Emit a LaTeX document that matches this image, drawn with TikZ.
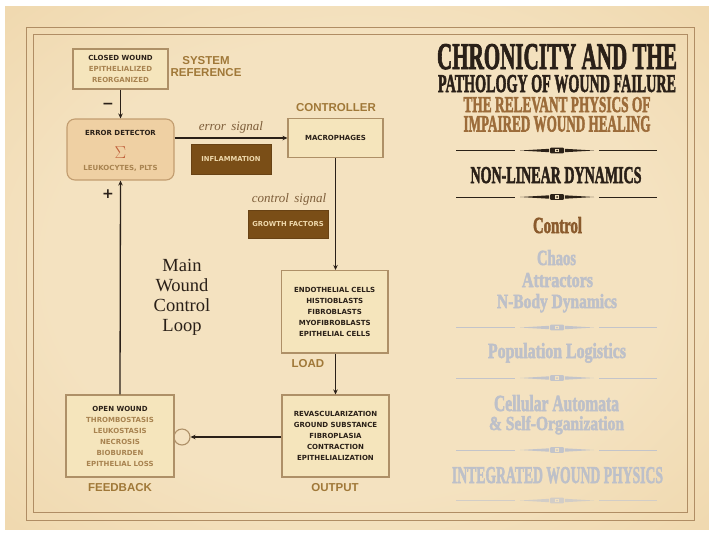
\documentclass[tikz,border=0pt]{standalone}
\usepackage{fontspec}
\usepackage{graphicx}
\usetikzlibrary{arrows.meta}
\newfontfamily\boxfont{DejaVu Sans}
\newfontfamily\lblfont{Liberation Sans}
\newfontfamily\serfont{Liberation Serif}
\newfontfamily\headfont{Liberation Serif}[FakeBold=2.6]
\definecolor{ink}{HTML}{2A2018}
\definecolor{paperc}{HTML}{F4E2C0}
\definecolor{paperm}{HTML}{EDD2A3}
\definecolor{papere}{HTML}{D0A26C}
\definecolor{framec}{HTML}{B08D64}
\definecolor{boxfill}{HTML}{F5E5BC}
\definecolor{boxline}{HTML}{AE9067}
\definecolor{edfill}{HTML}{EFD0A3}
\definecolor{edline}{HTML}{C29D70}
\definecolor{bt}{HTML}{A88350}
\definecolor{lblc}{HTML}{A07838}
\definecolor{darkbox}{HTML}{7A4E17}
\definecolor{creamt}{HTML}{EFD9AC}
\definecolor{sigc}{HTML}{7E5E3A}
\definecolor{sigmac}{HTML}{C0603A}
\definecolor{subc}{HTML}{9C6C3A}
\definecolor{ctrlc}{HTML}{8A5A2C}
\definecolor{lightc}{HTML}{BDC0C9}
\definecolor{ornc}{HTML}{2B2117}
\definecolor{lornc}{HTML}{C3C4CA}
\pgfdeclareradialshading{paper}{\pgfpoint{0bp}{0bp}}{color(0bp)=(paperc); color(22bp)=(paperc); color(45bp)=(paperm); color(72bp)=(papere)}
\newcommand\htxt[3]{\resizebox{#1pt}{#2pt}{\headfont\bfseries #3}}
\newcommand\ornmt[3]{%
\begin{scope}[shift={(#1,#2)},#3]
 \fill (-101,-0.45) rectangle (-42,0.45);
 \fill (42,-0.45) rectangle (100,0.45);
 \fill (-37,0) -- (-8,-1.7) -- (-8,1.7) -- cycle;
 \fill (37,0) -- (8,-1.7) -- (8,1.7) -- cycle;
 \fill[rounded corners=1pt] (-7,-2.8) rectangle (7,2.8);
 \fill[paperc] (-2.2,-1.7) rectangle (2.2,1.7);
 \fill (0,0) circle (1);
\end{scope}}
\tikzset{
 box/.style={draw=boxline, fill=boxfill, line width=1.1pt, inner sep=0pt, align=center,
   font=\boxfont\bfseries\fontsize{7}{11}\selectfont, text=ink},
 dbox/.style={draw=darkbox!85!black, fill=darkbox, line width=0.6pt, inner sep=0pt,
   font=\boxfont\bfseries\fontsize{6.8}{7}\selectfont, text=creamt},
 lbl/.style={font=\lblfont\bfseries\fontsize{11.5}{12}\selectfont, text=lblc, inner sep=0pt, align=center},
 sig/.style={font=\serfont\itshape\fontsize{13}{14}\selectfont, text=sigc, inner sep=0pt},
 arr/.style={draw=ink, line width=1.3pt, -{Stealth[length=5pt,width=4.5pt]}},
 hd/.style={anchor=base, inner sep=0pt},
 btxt/.style={inner sep=0pt, font=\boxfont\bfseries\fontsize{7}{8}\selectfont},
}
\begin{document}
\begin{tikzpicture}[x=1pt,y=-1pt]
\useasboundingbox (0,0) rectangle (709,539);
\fill[white] (0,0) rectangle (709,539);
\shade[shading=paper] (5,6) rectangle (709,529);
% frame
\draw[framec, line width=0.9pt] (26,27) rectangle (694,520);
\draw[framec, line width=0.9pt] (33,34) rectangle (687,512);

% ---- left diagram ----
\node[box, minimum width=95pt, minimum height=40pt] (cw) at (120.5,69)
 {CLOSED WOUND\\ \color{bt}EPITHELIALIZED\\ \color{bt}REORGANIZED};
\node[lbl] (sysref) at (206,67) {SYSTEM\\REFERENCE};

\node[draw=edline, fill=edfill, line width=1.1pt, rounded corners=8pt,
      minimum width=107pt, minimum height=61pt, inner sep=0pt] (ed) at (120.5,149.5) {};
\node[btxt, text=ink] (edt) at (120.5,133) {ERROR DETECTOR};
\node[inner sep=0pt, text=sigmac, font=\fontsize{16}{16}\selectfont] (sig) at (120.5,153) {$\Sigma$};
\node[btxt, text=bt] (leu) at (120.5,168) {LEUKOCYTES, PLTS};

\node[inner sep=0pt, text=ink, font=\boxfont\bfseries\fontsize{14}{14}\selectfont] (minus) at (108,106) {−};
\node[inner sep=0pt, text=ink, font=\boxfont\bfseries\fontsize{14}{14}\selectfont] (plus) at (108,194) {+};

\node[box, minimum width=95pt, minimum height=39.5pt] (mac) at (335.5,138) {MACROPHAGES};
\node[lbl] (ctrl) at (336,108) {CONTROLLER};
\node[sig] (es) at (231,127) {error\, signal};
\node[dbox, minimum width=80pt, minimum height=30pt] (infl) at (231,159) {INFLAMMATION};
\node[sig] (cs) at (289,199) {control\, signal};
\node[dbox, minimum width=80pt, minimum height=28pt] (gf) at (288,224) {GROWTH FACTORS};

\node[font=\serfont\fontsize{18.5}{20}\selectfont, align=center, inner sep=0pt, text=ink] (mwcl) at (182,297)
 {Main\\Wound\\Control\\Loop};

\node[box, minimum width=106.5pt, minimum height=82.5pt] (load) at (334.75,311.75)
 {ENDOTHELIAL CELLS\\HISTIOBLASTS\\FIBROBLASTS\\MYOFIBROBLASTS\\EPITHELIAL CELLS};
\node[lbl] (loadl) at (308,364) {LOAD};

\node[box, minimum width=107pt, minimum height=82pt] (out) at (335.5,436)
 {REVASCULARIZATION\\GROUND SUBSTANCE\\FIBROPLASIA\\CONTRACTION\\EPITHELIALIZATION};
\node[lbl] (outl) at (335,488) {OUTPUT};

\node[box, minimum width=108pt, minimum height=82pt] (fb) at (120,436)
 {OPEN WOUND\\ \color{bt}THROMBOSTASIS\\ \color{bt}LEUKOSTASIS\\ \color{bt}NECROSIS\\ \color{bt}BIOBURDEN\\ \color{bt}EPITHELIAL LOSS};
\node[lbl] (fbl) at (120,488) {FEEDBACK};

\node[circle, draw=boxline, line width=1.1pt, minimum size=16pt, inner sep=0pt] (circ) at (182,437) {};

\draw[arr] (cw.south) -- (ed.north);
\draw[arr] (ed.east |- mac.west) -- (mac.west);
\draw[arr] (mac.south) -- (mac.south |- load.north);
\draw[arr] (load.south -| mac.south) -- (mac.south |- out.north);
\draw[arr] (out.west |- circ.east) -- (circ.east);
\draw[arr] (fb.north) -- (ed.south);

% ---- right column ----
\node[hd, text=ink] (t1) at (557,69) {\htxt{240}{25}{CHRONICITY AND THE}};
\node[hd, text=ink] (t2) at (557,92) {\htxt{238}{17}{PATHOLOGY OF WOUND FAILURE}};
\node[hd, text=subc] (t3) at (557,112) {\htxt{187}{15}{THE RELEVANT PHYSICS OF}};
\node[hd, text=subc] (t4) at (557,131.5) {\htxt{187}{15.5}{IMPAIRED WOUND HEALING}};
\ornmt{557}{150.5}{ornc}
\node[hd, text=ink] (t5) at (556,183) {\htxt{171}{16}{NON-LINEAR DYNAMICS}};
\ornmt{557}{197}{ornc}
\node[hd, text=ctrlc] (t6) at (557.5,233) {\htxt{49}{16}{Control}};
\node[hd, text=lightc] (t7) at (556.5,265) {\htxt{39}{15}{Chaos}};
\node[hd, text=lightc] (t8) at (557.5,287) {\htxt{71}{14}{Attractors}};
\node[hd, text=lightc] (t9) at (557,308) {\htxt{120}{14}{N-Body Dynamics}};
\ornmt{557}{327.5}{lornc}
\node[hd, text=lightc] (t10) at (557,358) {\htxt{138}{15}{Population Logistics}};
\ornmt{557}{378}{lornc}
\node[hd, text=lightc] (t11) at (556.5,411) {\htxt{125}{16}{Cellular Automata}};
\node[hd, text=lightc] (t12) at (556.5,430) {\htxt{135}{14}{\& Self-Organization}};
\ornmt{557}{450}{lornc}
\node[hd, text=lightc] (t13) at (557.5,483) {\htxt{211}{16}{INTEGRATED WOUND PHYSICS}};
\ornmt{557}{500.5}{lornc!70!paperc}
\end{tikzpicture}
\end{document}
